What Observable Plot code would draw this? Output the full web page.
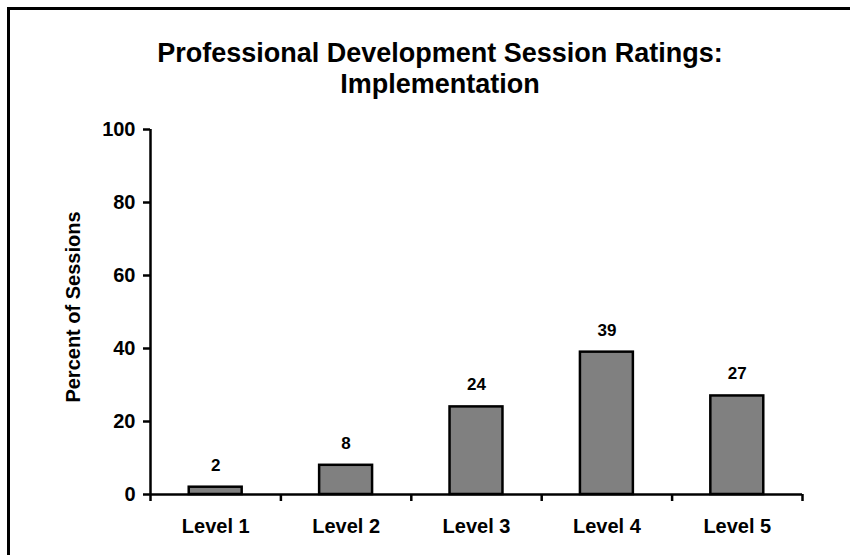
<!DOCTYPE html>
<html>
<head>
<meta charset="utf-8">
<script src="https://cdn.jsdelivr.net/npm/d3@7"></script>
<script src="https://cdn.jsdelivr.net/npm/@observablehq/plot@0.6"></script>
<style>
  html, body { margin: 0; padding: 0; background: #fff; }
  #wrap { position: relative; width: 850px; height: 555px; overflow: hidden; font-family: "Liberation Sans", Arial, sans-serif; }
  #frame { position: absolute; left: 7px; top: 7px; width: 900px; height: 600px; border-top: 3px solid #000; border-left: 3px solid #000; pointer-events: none; }
  #title { position: absolute; left: 0; top: 38px; width: 880px; text-align: center; font-weight: bold; font-size: 27px; line-height: 31px; color: #000; }
  #chart { position: absolute; left: 0; top: 0; }
</style>
</head>
<body>
<div id="wrap">
  <div id="chart"></div>
  <div id="frame"></div>
  <div id="title">Professional Development Session Ratings:<br>Implementation</div>
</div>
<script>
const categories = ["Level 1", "Level 2", "Level 3", "Level 4", "Level 5"];
const values = [2, 8, 24, 39, 27];
const yTicks = [0, 20, 40, 60, 80, 100];
const yLabel = "Percent of Sessions";

const data = categories.map((c, i) => ({category: c, i, value: values[i]}));
const centers = categories.map((c, i) => i + 0.5);
const boundaries = d3.range(categories.length + 1);
const half = 0.203;
const font = "Liberation Sans, Arial, sans-serif";

const chart = Plot.plot({
  width: 850,
  height: 555,
  marginLeft: 150,
  marginRight: 48,
  marginTop: 129,
  marginBottom: 61,
  style: {fontFamily: font, background: "transparent", overflow: "visible"},
  x: {domain: [0, categories.length], axis: null},
  y: {domain: [0, 100], axis: null},
  marks: [
    Plot.rectY(data, {x1: d => d.i + 0.5 - half, x2: d => d.i + 0.5 + half, y: "value", fill: "#808080", stroke: "#000", strokeWidth: 2.5}),
    Plot.ruleX([0], {stroke: "#000", strokeWidth: 2.5}),
    Plot.ruleY([0], {stroke: "#000", strokeWidth: 2.5}),
    Plot.axisY({ticks: yTicks, tickSize: 7, tickPadding: 8, strokeWidth: 2.5, fontSize: 20, fontWeight: "bold", fill: "#000", label: null, tickFormat: d => String(d)}),
    Plot.axisX({ticks: boundaries, tickSize: 7, strokeWidth: 2.5, tickFormat: () => "", label: null}),
    Plot.axisX({ticks: centers, tickSize: 0, tickPadding: 24, fontSize: 20, fontWeight: "bold", fill: "#000", label: null, tickFormat: d => categories[Math.floor(d)]}),
    Plot.text(data, {x: d => d.i + 0.5, y: "value", text: d => String(d.value), dy: -22, lineAnchor: "middle", fontSize: 17, fontWeight: "bold", fill: "#000"}),
    Plot.text([yLabel], {frameAnchor: "left", textAnchor: "middle", lineAnchor: "middle", rotate: -90, dx: -77, dy: -5, fontSize: 20, fontWeight: "bold", fill: "#000"})
  ]
});
document.getElementById("chart").appendChild(chart);
</script>
</body>
</html>
